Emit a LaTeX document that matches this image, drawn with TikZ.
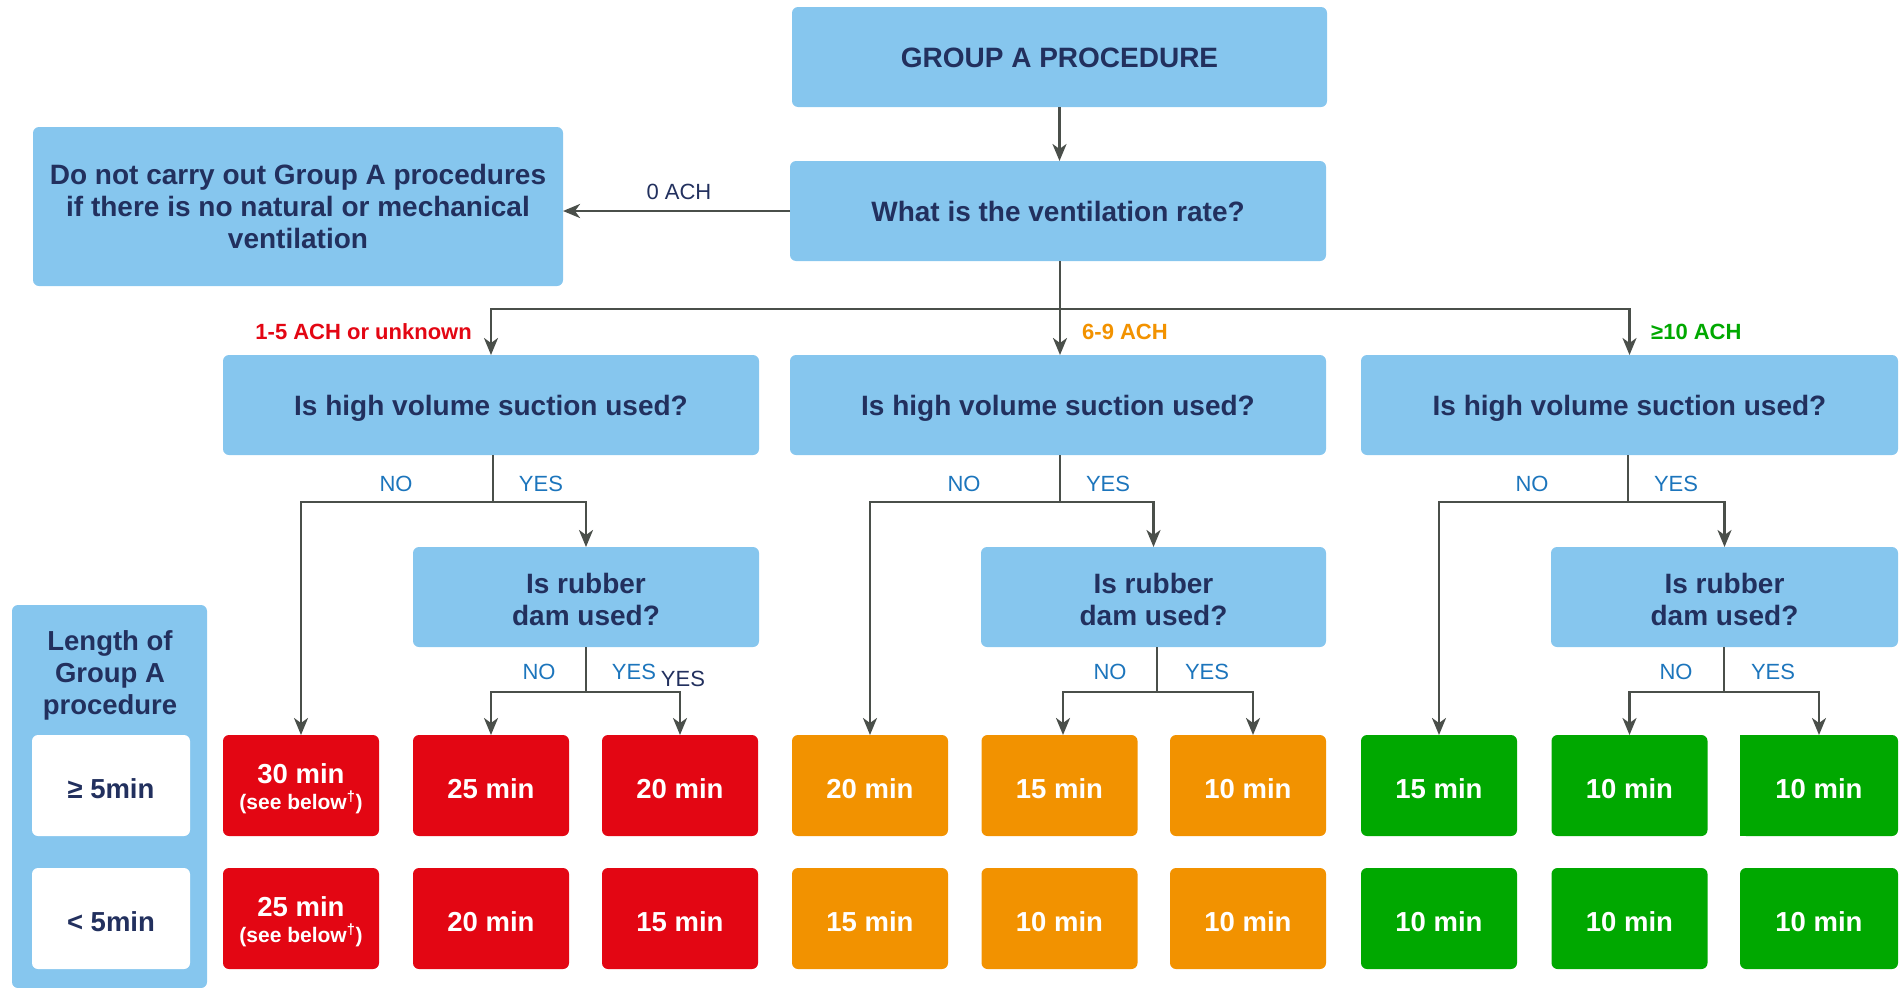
\documentclass[tikz,border=0pt]{standalone}
\usepackage{fontspec}
\setmainfont{Liberation Sans}
\usetikzlibrary{arrows.meta}
\definecolor{lblue}{HTML}{86C6EE}
\definecolor{navy}{HTML}{22305E}
\definecolor{rred}{HTML}{E30613}
\definecolor{orng}{HTML}{F29200}
\definecolor{grn}{HTML}{00A800}
\definecolor{lnc}{HTML}{4A4F4A}
\definecolor{lblt}{HTML}{1C75BC}
\begin{document}
\begin{tikzpicture}[x=1pt,y=-1pt,
 qbox/.style={fill=lblue, rounded corners=6pt, inner sep=0pt, outer sep=0pt, align=center, text=navy, font=\fontsize{28}{32}\selectfont\bfseries, minimum height=100pt},
 oneline/.style={text height=20pt, text depth=0pt},
 res/.style={rounded corners=6pt, inner sep=0pt, outer sep=0pt, align=center, text=white, font=\fontsize{27.5}{32}\selectfont\bfseries, minimum width=156pt, minimum height=101pt},
 resone/.style={text height=25pt, text depth=0pt},
 redbox/.style={res, fill=rred},
 orbox/.style={res, fill=orng},
 grbox/.style={res, fill=grn},
 wbox/.style={res, fill=white, text=navy, minimum width=158pt},
 arr/.style={draw=lnc, line width=2.6pt, -{Stealth[length=17pt,width=14pt,inset=5pt]}},
 ln/.style={draw=lnc, line width=2.6pt},
 yn/.style={text=lblt, font=\fontsize{22}{26}\selectfont, inner sep=0pt},
 ach/.style={font=\fontsize{22}{26}\selectfont\bfseries, inner sep=0pt}
]
\clip (0,0) rectangle (1899,988);
% boxes
\node[qbox, oneline, minimum width=535pt] (top) at (1059.5,57) {GROUP A PROCEDURE};
\node[qbox, oneline, minimum width=536pt] (vent) at (1058,211) {What is the ventilation rate?};
\node[qbox, minimum width=530pt, minimum height=159pt] (noop) at (298,206.5) {Do not carry out Group A procedures\\if there is no natural or mechanical\\ventilation};
\node[qbox, oneline, minimum width=536pt] (suc1) at (491,405) {Is high volume suction used?};
\node[qbox, oneline, minimum width=536pt] (suc2) at (1058,405) {Is high volume suction used?};
\node[qbox, oneline, minimum width=537pt] (suc3) at (1629.5,405) {Is high volume suction used?};
\node[qbox, minimum width=346pt] (dam1) at (586,597) {\rule{0pt}{26pt}Is rubber\\dam used?};
\node[qbox, minimum width=345pt] (dam2) at (1153.5,597) {\rule{0pt}{26pt}Is rubber\\dam used?};
\node[qbox, minimum width=347pt] (dam3) at (1724.5,597) {\rule{0pt}{26pt}Is rubber\\dam used?};
% left panel
\node[fill=lblue, rounded corners=6pt, inner sep=0pt, minimum width=195pt, minimum height=383pt] (panel) at (109.5,796.5) {};
\node[text=navy, font=\fontsize{27.5}{32}\selectfont\bfseries, align=center, inner sep=0pt] (lenlbl) at (110,671) {\rule{0pt}{28pt}Length of\\Group A\\procedure};
\node[wbox, resone] (ge5) at (111,785.5) {≥ 5min};
\node[wbox, resone] (lt5) at (111,918.5) {< 5min};
% results row 1
\node[redbox] (r1a) at (301,785.5) {\rule{0pt}{25.5pt}30 min\\[-6pt]{\fontsize{21}{24}\selectfont (see below\textsuperscript{†})}};
\node[redbox, resone] (r1b) at (491,785.5) {25 min};
\node[redbox, resone] (r1c) at (680,785.5) {20 min};
\node[orbox, resone] (r1d) at (870,785.5) {20 min};
\node[orbox, resone] (r1e) at (1059.5,785.5) {15 min};
\node[orbox, resone] (r1f) at (1248,785.5) {10 min};
\node[grbox, resone] (r1g) at (1439,785.5) {15 min};
\node[grbox, resone] (r1h) at (1629.5,785.5) {10 min};
\fill[grn] (1740,735) rectangle (1819,836);
\node[grbox, resone, minimum width=158pt] (r1i) at (1819,785.5) {10 min};
% results row 2
\node[redbox] (r2a) at (301,918.5) {\rule{0pt}{25.5pt}25 min\\[-6pt]{\fontsize{21}{24}\selectfont (see below\textsuperscript{†})}};
\node[redbox, resone] (r2b) at (491,918.5) {20 min};
\node[redbox, resone] (r2c) at (680,918.5) {15 min};
\node[orbox, resone] (r2d) at (870,918.5) {15 min};
\node[orbox, resone] (r2e) at (1059.5,918.5) {10 min};
\node[orbox, resone] (r2f) at (1248,918.5) {10 min};
\node[grbox, resone] (r2g) at (1439,918.5) {10 min};
\node[grbox, resone] (r2h) at (1629.5,918.5) {10 min};
\node[grbox, resone, minimum width=158pt] (r2i) at (1819,918.5) {10 min};
% connectors
\draw[arr] (top.south) -- (top.south |- vent.north);
\draw[arr] (vent.west) -- (vent.west -| noop.east);
\node[text=navy, font=\fontsize{22}{26}\selectfont, inner sep=0pt] (zach) at (679,192) {0 ACH};
\coordinate (b0) at (1060,309);
\draw[ln] (vent.south -| b0) -- (b0);
\draw[arr] (b0) -| (suc1.north);
\draw[arr] (b0) -| (suc3.north);
\draw[arr] (b0) -- (b0 |- suc2.north);
\node[ach, text=rred, anchor=east] (l15) at (472,332) {1-5 ACH or unknown};
\node[ach, text=orng, anchor=west] (l69) at (1082,332) {6-9 ACH};
\node[ach, text=grn, anchor=west] (l10) at (1651,332) {≥10 ACH};
% suction branches
\coordinate (s1) at (493,502);
\coordinate (s2) at (1060,502);
\coordinate (s3) at (1628,502);
\draw[ln] (suc1.south -| s1) -- (s1);
\draw[ln] (suc2.south -| s2) -- (s2);
\draw[ln] (suc3.south -| s3) -- (s3);
\draw[arr] (s1) -| (r1a.north);
\draw[arr] (s1) -| (dam1.north);
\draw[arr] (s2) -| (r1d.north);
\draw[arr] (s2) -| (dam2.north);
\draw[arr] (s3) -| (r1g.north);
\draw[arr] (s3) -| (dam3.north);
% dam branches
\coordinate (d1) at (586,692);
\coordinate (d2) at (1157,692);
\coordinate (d3) at (1724,692);
\draw[ln] (dam1.south -| d1) -- (d1);
\draw[ln] (dam2.south -| d2) -- (d2);
\draw[ln] (dam3.south -| d3) -- (d3);
\draw[arr] (d1) -| (r1b.north);
\draw[arr] (d1) -| (r1c.north);
\draw[arr] (d2) -| ([xshift=3.5pt]r1e.north);
\draw[arr] (d2) -| ([xshift=5pt]r1f.north);
\draw[arr] (d3) -| (r1h.north);
\draw[arr] (d3) -| (r1i.north);
% yes/no labels
\node[yn] (n1) at (396,483.5) {NO};
\node[yn] (y1) at (541,483.5) {YES};
\node[yn] (n2) at (964,483.5) {NO};
\node[yn] (y2) at (1108,483.5) {YES};
\node[yn] (n3) at (1532,483.5) {NO};
\node[yn] (y3) at (1676,483.5) {YES};
\node[yn] (n4) at (539,671.5) {NO};
\node[yn] (y4) at (634,671.5) {YES};
\node[yn, text=navy] (y4b) at (683,678.5) {YES};
\node[yn] (n5) at (1110,671.5) {NO};
\node[yn] (y5) at (1207,671.5) {YES};
\node[yn] (n6) at (1676,671.5) {NO};
\node[yn] (y6) at (1773,671.5) {YES};
\end{tikzpicture}
\end{document}
